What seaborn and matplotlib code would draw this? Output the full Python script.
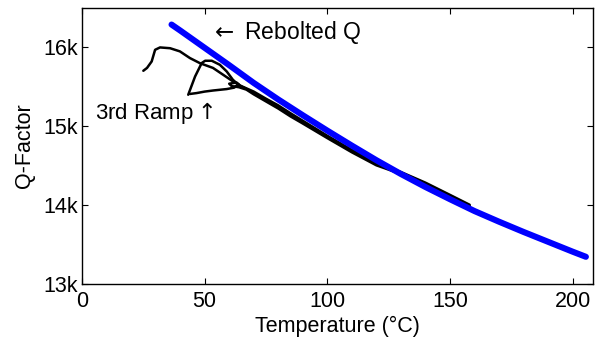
'''
Q-factor versus temperature for the rebolted cavity and the heating ramps.
'''

# Import necessary packages
import matplotlib
matplotlib.use('Agg')
import pandas as pd
import matplotlib.pyplot as plt
import seaborn as sns

# Rebolted Q (blue)
rebolted_temp = [36.5, 40, 50, 60, 70, 80, 90, 100, 110, 120, 130, 140, 150,
                 160, 170, 180, 190, 200, 205.4]
rebolted_q = [16290, 16215, 15995, 15775, 15550, 15340, 15140, 14945, 14755,
              14570, 14395, 14230, 14075, 13925, 13790, 13660, 13535, 13410, 13345]

# First ramp (black)
ramp1_temp = [25, 26.5, 28.4, 29.8, 31.8, 35.9, 39.9, 44, 48.1, 53.4, 57.5, 61.5,
              66, 70, 75, 80, 85, 90, 100, 110, 120, 130, 140, 150, 158]
ramp1_q = [15704, 15740, 15822, 15970, 16000, 15990, 15950, 15865, 15800, 15740,
           15654, 15570, 15490, 15425, 15335, 15250, 15150, 15055, 14865, 14685,
           14520, 14410, 14275, 14120, 13995]

# Second ramp (black, bottom of the triangle with the small loop)
ramp2_temp = [44, 46.7, 50, 53.5, 59, 62, 64, 63, 60, 61, 64, 67,
              70, 75, 80, 85, 90, 100, 110, 120, 130, 140, 150, 158]
ramp2_q = [15410, 15421, 15440, 15454, 15472, 15490, 15530, 15555, 15540, 15510,
           15495, 15465, 15405, 15315, 15225, 15125, 15035, 14850, 14670, 14505,
           14395, 14265, 14110, 13985]

# Third ramp (black)
ramp3_temp = [43.3, 46.1, 48.8, 50.2, 52.9, 56.2, 59, 61.5, 64, 66,
              70, 75, 80, 85, 90, 100, 110, 120, 130, 140, 150, 158]
ramp3_q = [15400, 15632, 15802, 15831, 15831, 15780, 15695, 15590, 15520, 15495,
           15440, 15350, 15265, 15165, 15070, 14880, 14700, 14530, 14420, 14285,
           14130, 14005]

# Axis ticks
x_ticks = [0, 50, 100, 150, 200]
y_ticks = [13000, 14000, 15000, 16000]
y_tick_labels = ['13k', '14k', '15k', '16k']

sns.set_style('ticks')
plt.rcParams['font.family'] = ['Liberation Sans', 'DejaVu Sans']
plt.rcParams['mathtext.fontset'] = 'dejavusans'
plt.rcParams['text.color'] = 'black'
plt.rcParams['axes.labelcolor'] = 'black'

fig = plt.figure(figsize=(5.95, 3.41), dpi=100)
ax = fig.add_axes([82 / 595, 57 / 341, 511 / 595, 276 / 341])

# Black ramps first, blue drawn on top
for temp, q in [(ramp1_temp, ramp1_q), (ramp2_temp, ramp2_q), (ramp3_temp, ramp3_q)]:
    df = pd.DataFrame({'temp': temp, 'q': q})
    sns.lineplot(data=df, x='temp', y='q', sort=False, estimator=None,
                 color='black', lw=1.8, ax=ax)

blue_df = pd.DataFrame({'temp': rebolted_temp, 'q': rebolted_q})
sns.lineplot(data=blue_df, x='temp', y='q', sort=False, estimator=None,
             color='#0000ff', lw=4.4, solid_capstyle='round', ax=ax)

# Axis limits and ticks
ax.set_xlim(0, 208.3)
ax.set_ylim(13000, 16500)
ax.set_xticks(x_ticks)
ax.set_yticks(y_ticks)
ax.set_yticklabels(y_tick_labels)
ax.tick_params(direction='in', length=4, width=0.8, top=True, right=True,
               labelsize=15.5, colors='black')
ax.tick_params(axis='x', pad=5)
ax.tick_params(axis='y', pad=3)
for spine in ax.spines.values():
    spine.set_linewidth(1.0)
    spine.set_color('black')

ax.set_xlabel('Temperature (\u00b0C)', fontsize=15.5, labelpad=3)
ax.set_ylabel('Q-Factor', fontsize=15.5, labelpad=6)

# Annotations
ax.text(52.2, 16187, r'$\leftarrow$ Rebolted Q', fontsize=16.5, va='center', ha='left')
ax.text(5.3, 15171, r'3rd Ramp$\uparrow$', fontsize=16, va='center', ha='left')

fig.savefig('out.png', dpi=100)
